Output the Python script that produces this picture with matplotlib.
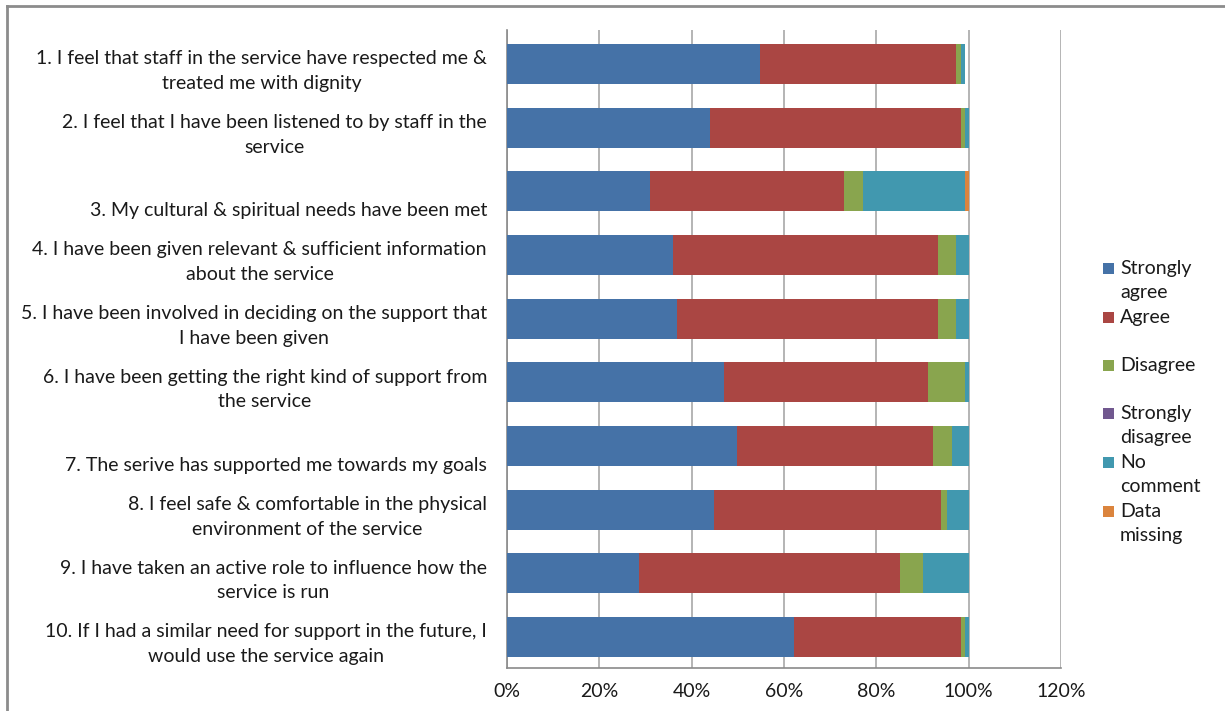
import matplotlib

matplotlib.use("Agg")
import matplotlib.pyplot as plt
import numpy as np
from matplotlib.lines import Line2D
from matplotlib.patches import Rectangle
from matplotlib.ticker import PercentFormatter
from matplotlib.transforms import ScaledTranslation

# --- data (percent of respondents) ---
questions = [
    "1. I feel that staff in the service have respected me &\ntreated me with dignity",
    "2. I feel that I have been listened to by staff in the\nservice",
    "\n3. My cultural & spiritual needs have been met",
    "4. I have been given relevant & sufficient information\nabout the service",
    "5. I have been involved in deciding on the support that\nI have been given",
    "6. I have been getting the right kind of support from\nthe service",
    "\n7. The serive has supported me towards my goals",
    "8. I feel safe & comfortable in the physical\nenvironment of the service",
    "9. I have taken an active role to influence how the\nservice is run",
    "10. If I had a similar need for support in the future, I\nwould use the service again",
]
series = ["Strongly\nagree", "Agree", "Disagree", "Strongly\ndisagree", "No\ncomment", "Data\nmissing"]
strongly_agree = [54.9, 44.0, 31.0, 36.0, 36.9, 46.9, 49.9, 44.9, 28.6, 62.2]
agree = [42.3, 54.3, 42.0, 57.3, 56.4, 44.2, 42.3, 49.2, 56.6, 36.1]
disagree = [1.1, 0.8, 4.2, 3.9, 3.9, 8.0, 4.1, 1.1, 5.0, 0.8]
strongly_disagree = [0, 0, 0, 0, 0, 0, 0, 0, 0, 0]
no_comment = [0.8, 0.9, 21.9, 2.8, 2.8, 0.9, 3.7, 4.8, 9.8, 0.9]
data_missing = [0, 0, 0.9, 0, 0, 0, 0, 0, 0, 0]
values = [strongly_agree, agree, disagree, strongly_disagree, no_comment, data_missing]
x_ticks = [0, 20, 40, 60, 80, 100, 120]

COLORS = ["#4572a7", "#aa4643", "#89a54e", "#71588f", "#4198af", "#db843d"]
INK = "#1a1a1a"
AXIS = "#8a8a8a"
GRID = "#a8a8a8"
FONT = ["Lato", "DejaVu Sans"]
FS = 14
LS = 1.53

plt.rcParams.update({"font.family": FONT, "font.size": FS, "text.color": INK})

W, H = 1225, 711
fig = plt.figure(figsize=(W / 100, H / 100), dpi=100)
ax = fig.add_axes([507 / W, 1 - 668 / H, (1061 - 507) / W, (668 - 30) / H])

y = np.arange(len(questions))
left = np.zeros(len(questions))
for vals, color in zip(values, COLORS):
    vals = np.array(vals, dtype=float)
    ax.barh(y, vals, left=left, height=0.628, color=color, edgecolor="none", zorder=3)
    left += vals

ax.set_xlim(0, 120)
ax.set_ylim(9.487, -0.534)
ax.set_xticks(x_ticks)
ax.xaxis.set_major_formatter(PercentFormatter(decimals=0))
ax.grid(True, axis="x", color=GRID, lw=1.2)
ax.set_axisbelow(True)
ax.tick_params(axis="x", length=0, pad=11, labelsize=FS, colors=INK)
ax.tick_params(axis="y", length=0, pad=14.4)
ax.set_yticks(y)
ax.set_yticklabels(questions, ha="right", multialignment="center", linespacing=LS,
                   fontsize=FS, color=INK)
shift = ScaledTranslation(0, -2 / 100, fig.dpi_scale_trans)
for lbl in ax.get_yticklabels():
    lbl.set_transform(lbl.get_transform() + shift)
for side in ("top", "right"):
    ax.spines[side].set_visible(False)
for side in ("left", "bottom"):
    ax.spines[side].set_color(AXIS)
    ax.spines[side].set_linewidth(1.2)

# legend drawn by hand to match the spreadsheet layout
leg_y = [268, 317, 365, 413, 462, 511]
for name, color, ly in zip(series, COLORS, leg_y):
    fig.patches.append(Rectangle((1103 / W, 1 - (ly + 6) / H), 11 / W, 11 / H,
                                 transform=fig.transFigure, facecolor=color,
                                 edgecolor="none"))
    fig.text(1120 / W, 1 - (ly - 8) / H, name, ha="left", va="top",
             fontsize=FS, linespacing=LS, color=INK)

# outer chart frame (top and left edges visible in the crop)
fig.add_artist(Line2D([7 / W, 1], [1 - 6 / H, 1 - 6 / H], transform=fig.transFigure,
                      color="#8c8c8c", lw=2))
fig.add_artist(Line2D([7 / W, 7 / W], [0, 1 - 6 / H], transform=fig.transFigure,
                      color="#8c8c8c", lw=2))

fig.savefig("out.png", dpi=100, facecolor="white")
